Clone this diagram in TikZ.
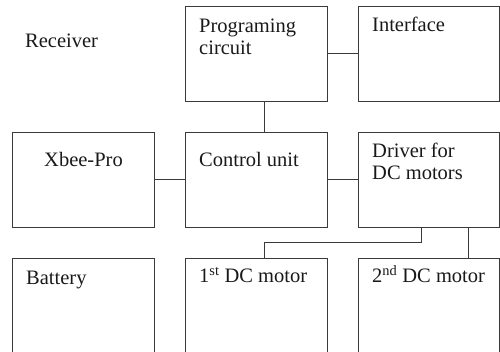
\documentclass[tikz,border=0pt]{standalone}
\usepackage{fontspec}
\setmainfont{Liberation Serif}
\usepackage{tikz}
\usetikzlibrary{positioning}
\definecolor{LineGray}{HTML}{3A3A3A}

\begin{document}
\begin{tikzpicture}[
            x=1pt, y=-1pt,
            box/.style={draw=LineGray, line width=1pt, anchor=north west, inner sep=0pt, minimum width=142pt, minimum height=95pt},
            txt/.style={anchor=base west, inner sep=0pt, align=left, font=\fontsize{20.5}{22}\selectfont, text=black!90},
            link/.style={draw=LineGray, line width=1pt}
        ]
            \useasboundingbox (0,0) rectangle (500,352);
            \clip (0,0) rectangle (500,352);

            % Top row
            \node[txt] at (25,48) (receiver) {Receiver};
            \node[box] at (185,6) (prog) {};
            \node[box, minimum width=141pt] at (358,6) (iface) {};
            \node[txt] at ([xshift=14pt, yshift=-49pt]prog.north west) (progtxt) {Programing\\circuit};
            \node[txt] at ([xshift=14pt, yshift=-26pt]iface.north west) (ifacetxt) {Interface};

            % Middle row
            \node[box] at (12,132) (xbee) {};
            \node[box] at (185,132) (ctrl) {};
            \node[box, minimum width=141pt] at (358,132) (driver) {};
            \node[txt, anchor=base] at ([yshift=-35pt]xbee.north) (xbeetxt) {Xbee-Pro};
            \node[txt] at ([xshift=14pt, yshift=-35pt]ctrl.north west) (ctrltxt) {Control unit};
            \node[txt] at ([xshift=14pt, yshift=-48pt]driver.north west) (drivertxt) {Driver for\\DC motors};

            % Bottom row
            \node[box, minimum height=100pt] at (12,258) (battery) {};
            \node[box, minimum height=100pt] at (185,258) (motorA) {};
            \node[box, minimum width=141pt, minimum height=100pt] at (358,258) (motorB) {};
            \node[txt] at ([xshift=14pt, yshift=-27pt]battery.north west) (batterytxt) {Battery};
            \node[txt] at ([xshift=14pt, yshift=-25pt]motorA.north west) (motorAtxt) {1\textsuperscript{st} DC motor};
            \node[txt] at ([xshift=14pt, yshift=-25pt]motorB.north west) (motorBtxt) {2\textsuperscript{nd} DC motor};

            % Links
            \draw[link] (prog.east) -- (iface.west);
            \draw[link] ([xshift=8pt]prog.south) -- ([xshift=8pt]ctrl.north);
            \draw[link] (xbee.east) -- (ctrl.west);
            \draw[link] (ctrl.east) -- (driver.west);
            \coordinate (bend) at ([xshift=-7.5pt, yshift=-15pt]driver.south);
            \draw[link] ([xshift=-7.5pt]driver.south) -- (bend) -| ([xshift=8pt]motorA.north);
            \draw[link] ([xshift=39.5pt]driver.south) -- ([xshift=39.5pt]driver.south |- motorB.north);

        \end{tikzpicture}
\end{document}
